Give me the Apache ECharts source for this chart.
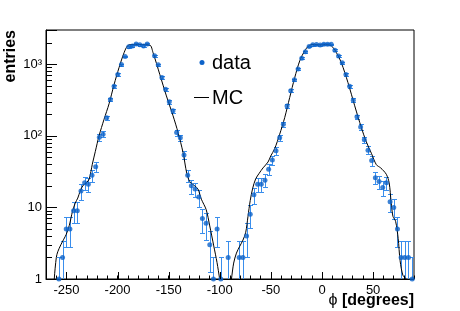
<!DOCTYPE html>
<html><head><meta charset="utf-8">
<script src="https://cdn.jsdelivr.net/npm/echarts@6/dist/echarts.min.js"></script>
<style>html,body{margin:0;padding:0;background:#fff}#c{width:460px;height:311px}</style>
</head><body><div id="c"></div>
<script>
// data histogram: bin centres (degrees) and entries (bins with zero entries omitted)
const binCenters = [-257.4,-253.8,-250.2,-246.6,-243.0,-239.4,-235.8,-232.2,-228.6,-225.0,-221.4,-217.8,-214.2,-210.6,-207.0,-203.4,-199.8,-196.2,-192.6,-189.0,-185.4,-181.8,-178.2,-174.6,-171.0,
  -163.8,-160.2,-156.6,-153.0,-149.4,-145.8,-142.2,-138.6,-135.0,-131.4,-127.8,-124.2,-120.6,-117.0,-113.4,-109.8,-106.2,-102.6,-99.0,
  -91.8,
  -81.0,-77.4,-73.8,-70.2,-66.6,-63.0,-59.4,-55.8,-52.2,-48.6,-45.0,-41.4,-37.8,-34.2,-30.6,-27.0,-23.4,-19.8,-16.2,-12.6,-9.0,-5.4,-1.8,1.8,5.4,9.0,12.6,16.2,19.8,23.4,27.0,30.6,34.2,37.8,41.4,45.0,48.6,52.2,55.8,59.4,63.0,66.6,70.2,73.8,77.4,81.0,84.6,88.2];
const counts = [1,2,5,5,9,9,17,22,21,28,37,95,105,178,321,492,716,989,1280,1750,1790,1920,1860,1800,1910,
  1308,979,650,446,298,223,111,94,54,28,20,18,14,7,6,3,1,5,1,
  2,
  2,2,4,8,15,21,21,24,34,46,62,94,145,260,426,604,856,1208,1490,1760,1860,1880,1850,1900,1900,1890,1567,1300,1047,719,490,314,184,133,88,63,45,26,23,19,22,12,10,5,2,2,2,1];
// MC curve
const mcPhi = [-263.5,-261.9,-259.9,-258.5,-255.5,-252.6,-250.2,-247.2,-244.1,-241.4,-238.9,-236.5,-233.5,-230.6,-227.7,-224.7,-221.8,-218.1,-213.2,-208.3,-203.4,-198.5,-193.6,-190.3,-187.1,-178.3,-168.5,-165.3,-158.7,-152.2,-145.7,-140.8,-135.9,-132.3,-129.4,-124.5,-121.3,-118.0,-113.3,-109.8,-105.9,-102.7,-100.1,-94.2,-88.6,-86.4,-83.7,-80.5,-77.3,-74.6,-72.4,-70.2,-67.8,-64.9,-61.4,-57.7,-52.8,-50.2,-46.3,-41.4,-36.5,-31.6,-26.7,-21.8,-16.9,-13.0,-8.8,-2.3,3.6,9.2,14.1,18.9,25.4,32.0,38.5,43.4,48.3,53.2,57.4,62.9,65.7,67.6,69.4,72.0,74.5,76.4,79.2,82.3,85.7];
const mcEntries = [0.3,1.0,2.0,2.4,3.0,3.6,4.2,5.6,8.8,11.5,13.5,17,20.5,22,25,40,60,100,170,280,520,900,1450,1800,1880,1880,1850,1450,720,360,190,111,58,30,23,20,18,13,9.3,5.5,2.9,1.7,1.0,0.3,1.0,1.67,2.3,2.86,3.5,4.5,7.5,12.5,18.5,25,30,35.6,43,52,66,105,179,342,648,1110,1540,1800,1890,1850,1880,1800,1450,1050,553,262,130,82,57,39.4,35.6,29,22,12,7.5,6.4,3.7,1.8,1.12,1.0,0.5];
// axis ticks / labels
const xMajorTicks = [-250,-200,-150,-100,-50,0,50];
const yMajorLabels = {1:'1',10:'10',100:'10\u00b2',1000:'10\u00b3'};
const yMinorTicks = [2,3,4,5,6,7,8,9,20,30,40,50,60,70,80,90,200,300,400,500,600,700,800,900,2000,3000];
const X_MIN = -270, X_MAX = 90, Y_MIN = 1, Y_MAX = 3000;

const FONT = "'Liberation Sans', Arial, Helvetica, sans-serif";
const chart = echarts.init(document.getElementById('c'), null, {renderer:'canvas'});
const dotColor = '#0d63c9', barColor = '#3a8eec';

const errData = binCenters.map((x,i)=>{const n=counts[i], e=Math.sqrt(n); return [x, n, n-e, n+e];});

chart.setOption({
  animation:false,
  grid:{left:46, top:30, width:368, height:249, show:true, borderColor:'#000', borderWidth:1},
  xAxis:{type:'value', min:X_MIN, max:X_MAX, interval:10,
    axisLine:{show:true, onZero:false, lineStyle:{color:'#000', width:1}},
    axisTick:{show:true, inside:true, length:3.5, lineStyle:{color:'#000'}},
    axisLabel:{margin:5, color:'#000', fontSize:13, fontFamily:FONT,
      formatter:v=>{const r=Math.round(v); return xMajorTicks.indexOf(r)>=0 ? String(r) : '';}},
    splitLine:{show:false}},
  yAxis:{type:'log', logBase:10, min:Y_MIN, max:Y_MAX,
    axisLine:{show:true, onZero:false, lineStyle:{color:'#000', width:1}},
    axisTick:{show:true, inside:true, length:11, lineStyle:{color:'#000'}},
    axisLabel:{margin:4, color:'#000', fontSize:13, fontFamily:FONT,
      formatter:v=>{const r=Math.round(v); return yMajorLabels[r]!==undefined && Math.abs(v-r)<1e-6*r+1e-9 ? yMajorLabels[r] : '';}},
    splitLine:{show:false}},
  series:[
    {type:'line', name:'MC', data:mcPhi.map((x,i)=>[x,mcEntries[i]]), showSymbol:false, symbol:'none',
      smooth:0.3, lineStyle:{color:'#000', width:1}, z:3, clip:true},
    {type:'custom', name:'err', data:errData, encode:{x:0,y:1}, z:2, clip:true, itemStyle:{color:barColor},
      renderItem:(params, api)=>{
        const x=api.value(0), lo=api.value(2), hi=api.value(3);
        const top=api.coord([x, Math.min(hi, Y_MAX)]);
        const bot=api.coord([x, Math.max(lo, Y_MIN)]);
        const px=Math.round(top[0]);
        const ty=Math.round(top[1]), by=Math.round(bot[1]);
        const st={fill:barColor, stroke:null};
        const ch=[{type:'rect', shape:{x:px, y:ty, width:1, height:Math.max(1,by-ty)}, style:st}];
        if (hi<=Y_MAX) ch.push({type:'rect', shape:{x:px-2, y:ty, width:5, height:1}, style:st});
        if (lo>=Y_MIN) ch.push({type:'rect', shape:{x:px-2, y:by, width:5, height:1}, style:st});
        return {type:'group', children:ch};
      }},
    {type:'scatter', name:'data', data:binCenters.map((x,i)=>[x,counts[i]]), symbol:'circle', symbolSize:5,
      itemStyle:{color:dotColor}, z:4},
    {type:'custom', name:'yminor', data:yMinorTicks.map(v=>[X_MIN,v]), encode:{x:0,y:1}, z:5, silent:true,
      renderItem:(params, api)=>{
        const p=api.coord([api.value(0), api.value(1)]);
        const y=Math.round(p[1])+0.5;
        return {type:'line', shape:{x1:p[0],y1:y,x2:p[0]+6,y2:y}, style:{stroke:'#000', lineWidth:1}};
      }},
    {type:'custom', name:'xmajor', data:xMajorTicks.map(v=>[v,Y_MIN]), encode:{x:0,y:1}, z:5, silent:true,
      renderItem:(params, api)=>{
        const p=api.coord([api.value(0), api.value(1)]);
        const x=Math.round(p[0])+0.5;
        return {type:'line', shape:{x1:x,y1:p[1],x2:x,y2:p[1]-7}, style:{stroke:'#000', lineWidth:1}};
      }}
  ],
  graphic:[
    {type:'text', x:11, y:30, rotation:Math.PI/2, style:{text:'entries', font:'bold 16px '+FONT, fill:'#000', align:'right', verticalAlign:'middle'}},
    {type:'text', x:414, y:301, style:{text:'{p|\u03d5}{b| [degrees]}', align:'right', verticalAlign:'middle', fill:'#000',
      rich:{p:{font:'16px '+FONT, fill:'#000'}, b:{font:'bold 16px '+FONT, fill:'#000'}}}},
    {type:'circle', shape:{cx:202, cy:62.5, r:2.5}, style:{fill:dotColor}},
    {type:'text', x:212, y:63, style:{text:'data', font:'20px '+FONT, fill:'#000', verticalAlign:'middle'}},
    {type:'line', shape:{x1:194, y1:97.5, x2:209, y2:97.5}, style:{stroke:'#000', lineWidth:1}},
    {type:'text', x:212, y:98, style:{text:'MC', font:'20px '+FONT, fill:'#000', verticalAlign:'middle'}}
  ]
});
</script></body></html>
